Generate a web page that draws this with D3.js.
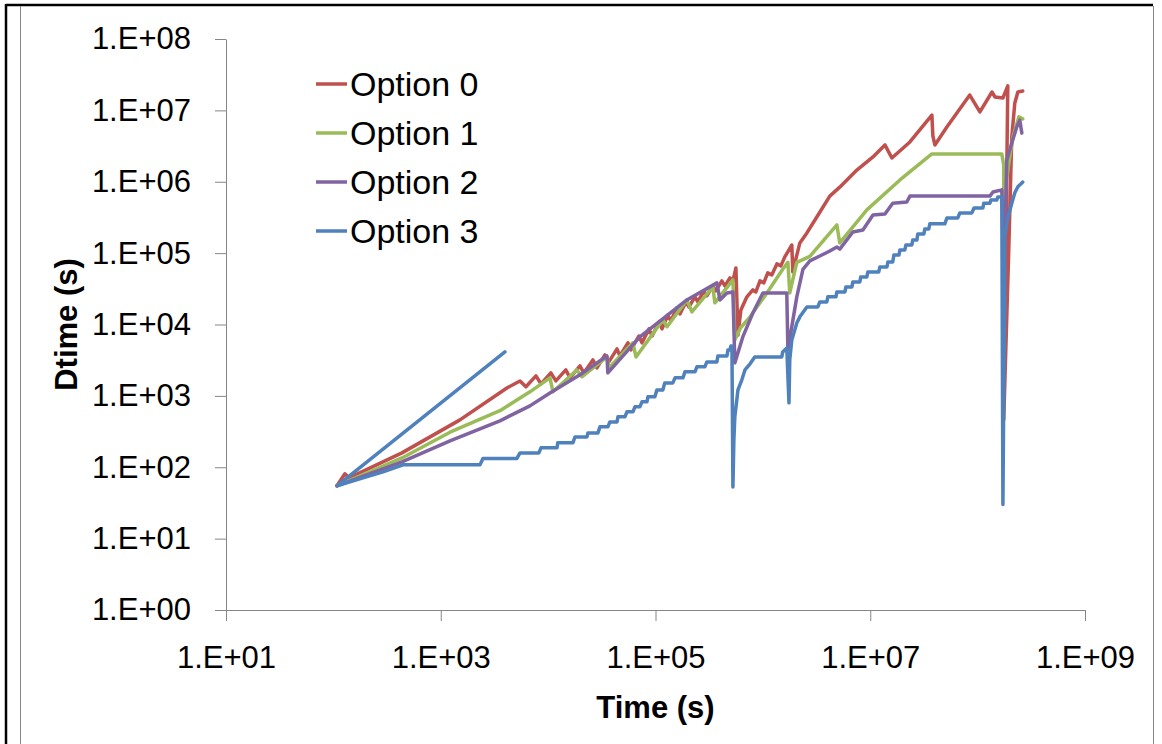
<!DOCTYPE html>
<html>
<head>
<meta charset="utf-8">
<script src="https://cdn.jsdelivr.net/npm/d3@7"></script>
<style>
  body { margin: 0; background: #fff; }
  svg  { display: block; }
  text { font-family: "Liberation Sans", Arial, sans-serif; fill: #000; }
</style>
</head>
<body>
<svg id="chart" width="1162" height="744"></svg>
<script>
// ── Data ──────────────────────────────────────────────────────────────────────
const seriesNames  = ['Option 0', 'Option 1', 'Option 2', 'Option 3'];
const seriesColors = ['#C0504D', '#9BBB59', '#8064A2', '#4F81BD'];
const xTickValues  = [1e1, 1e3, 1e5, 1e7, 1e9];
const yTickValues  = [1e0, 1e1, 1e2, 1e3, 1e4, 1e5, 1e6, 1e7, 1e8];
const xTitle       = 'Time (s)';
const yTitle       = 'Dtime (s)';

// [time, dtime] pairs, in plot order
const option0 = [
  [108, 55], [128, 81], [140, 71], [435, 159], [1.51e3, 461], [4.13e3, 1.29e3],
  [5.47e3, 1.62e3], [6.21e3, 1.34e3], [7.7e3, 1.91e3], [8.58e3, 1.47e3],
  [1.06e4, 2.10e3], [1.18e4, 1.62e3], [1.46e4, 2.31e3], [1.60e4, 1.79e3],
  [1.98e4, 2.63e3], [2.15e4, 2.10e3], [2.61e4, 3.19e3], [2.85e4, 2.47e3],
  [3.38e4, 3.75e3], [3.68e4, 2.99e3], [4.38e4, 4.55e3], [4.66e4, 3.63e3],
  [5.53e4, 5.54e3], [5.91e4, 4.41e3], [6.99e4, 6.9e3], [7.48e4, 5.54e3],
  [8.69e4, 8.67e3], [9.3e4, 6.9e3], [1.08e5, 1.09e4], [1.15e5, 8.67e3],
  [1.30e5, 1.36e4], [1.39e5, 1.12e4], [1.58e5, 1.71e4], [1.69e5, 1.41e4],
  [1.92e5, 2.07e4], [2.05e5, 1.76e4], [2.33e5, 2.44e4], [2.48e5, 2.07e4],
  [2.82e5, 2.96e4], [3.01e5, 2.52e4], [3.42e5, 3.47e4], [3.65e5, 2.96e4],
  [4.15e5, 4.08e4], [4.43e5, 3.47e4], [4.93e5, 4.49e4], [5.26e5, 4.08e4],
  [5.61e5, 6.2e4], [5.86e5, 7.1e3], [6.24e5, 1.60e4], [7.1e5, 2.44e4],
  [8.07e5, 3.05e4], [8.6e5, 2.86e4], [9.4e5, 4.08e4], [1.02e6, 3.83e4],
  [1.11e6, 5.28e4], [1.21e6, 4.95e4], [1.35e6, 7.06e4], [1.47e6, 6.62e4],
  [1.60e6, 8.85e4], [1.75e6, 1.11e5], [1.86e6, 1.30e5], [1.90e6, 5.45e4],
  [2.07e6, 9.4e4], [2.21e6, 1.39e5], [2.57e6, 1.92e5], [3.18e6, 3.21e5],
  [4.2e6, 6.3e5], [5.2e6, 8.4e5], [7.5e6, 1.46e6], [1.06e7, 2.23e6],
  [1.37e7, 3.28e6], [1.59e7, 2.15e6], [2.34e7, 3.61e6], [3.75e7, 8.6e6],
  [3.83e7, 4.38e6], [4.0e7, 3.28e6], [5.17e7, 5.85e6], [8.45e7, 1.64e7],
  [1.05e8, 9.5e6], [1.36e8, 1.81e7], [1.45e8, 1.54e7], [1.72e8, 1.49e7],
  [1.91e8, 2.20e7], [1.75e8, 461], [1.95e8, 1.11e5], [2.08e8, 4.24e6],
  [2.22e8, 1.27e7], [2.37e8, 1.81e7], [2.63e8, 1.87e7],
];

const option1 = [
  [108, 55], [435, 135], [1.22e3, 310], [3.56e3, 620], [6.77e3, 1.14e3],
  [1.04e4, 1.79e3], [1.11e4, 1.14e3], [1.85e4, 2.31e3], [2.06e4, 1.85e3],
  [3.53e4, 3.51e3], [3.68e4, 2.47e3], [6.16e4, 5.54e3], [6.58e4, 3.51e3],
  [1.17e5, 1.16e4], [1.28e5, 9.3e3], [1.96e5, 2.21e4], [2.18e5, 1.50e4],
  [3.42e5, 3.36e4], [3.57e5, 2.01e4], [5.26e5, 4.21e4], [5.48e5, 6.08e3],
  [6.2e5, 9.0e3], [7.6e5, 1.28e4], [1.09e6, 2.77e4], [1.53e6, 5.94e4],
  [1.71e6, 7.43e4], [1.78e6, 2.77e4], [2.07e6, 7.43e4], [2.74e6, 9.0e4],
  [4.89e6, 2.48e5], [5.2e6, 1.39e5], [9.3e6, 4.03e5], [1.89e7, 1.06e6],
  [3.75e7, 2.45e6], [1.68e8, 2.45e6], [1.75e8, 1.72e6], [1.75e8, 5.6e5],
  [1.91e8, 1.46e6], [2.13e8, 4.24e6], [2.42e8, 8.1e6], [2.63e8, 7.6e6],
];

const option2 = [
  [108, 55], [435, 119], [1.22e3, 234], [3.56e3, 447], [6.77e3, 724],
  [1.04e4, 1.10e3], [1.98e4, 1.97e3], [3.53e4, 3.63e3], [3.6e4, 2.10e3],
  [7.15e4, 6.7e3], [1.96e5, 2.21e4], [3.73e5, 3.83e4], [3.98e5, 2.21e4],
  [4.63e5, 2.77e4], [5.26e5, 2.86e4], [5.48e5, 2.9e3], [6.5e5, 6.7e3],
  [8.07e5, 1.45e4], [1.0e6, 2.77e4], [1.67e6, 2.77e4], [1.71e6, 4.41e3],
  [2.07e6, 2.44e4], [2.36e6, 5.94e4], [2.74e6, 7.8e4], [3.39e6, 9.1e4],
  [4.2e6, 1.07e5], [4.89e6, 1.22e5], [5.2e6, 1.14e5], [6.89e6, 1.98e5],
  [8.54e6, 2.11e5], [1.06e7, 3.43e5], [1.37e7, 3.54e5], [1.62e7, 5.0e5],
  [2.19e7, 5.2e5], [2.34e7, 6.3e5], [1.30e8, 6.3e5], [1.39e8, 7.2e5],
  [1.68e8, 7.7e5], [1.75e8, 4.2e4], [1.87e8, 2.02e6], [2.08e8, 3.5e6],
  [2.32e8, 5.9e6], [2.47e8, 7.3e6], [2.58e8, 4.8e6],
];

const option3 = [
  [3.96e3, 4.13e3], [108, 55], [189, 71], [290, 86], [445, 108],
  [2.32e3, 108], [2.47e3, 133], [5.12e3, 133], [5.47e3, 159], [8.2e3, 159],
  [8.58e3, 187], [1.21e4, 187], [1.23e4, 220], [1.70e4, 220], [1.78e4, 266],
  [2.30e4, 266], [2.35e4, 303], [2.91e4, 303], [3.04e4, 368], [3.6e4, 368],
  [3.76e4, 432], [4.38e4, 432], [4.47e4, 508], [5.19e4, 508], [5.42e4, 597],
  [6.16e4, 597], [6.43e4, 702], [7.15e4, 702], [7.48e4, 825], [8.32e4, 825],
  [8.5e4, 970], [9.87e4, 970], [1.03e5, 1.21e3], [1.17e5, 1.21e3],
  [1.22e5, 1.52e3], [1.45e5, 1.52e3], [1.52e5, 1.79e3], [1.80e5, 1.79e3],
  [1.88e5, 2.17e3], [2.33e5, 2.17e3], [2.43e5, 2.55e3], [2.88e5, 2.55e3],
  [3.01e5, 2.99e3], [3.73e5, 2.99e3], [3.81e5, 3.63e3], [4.63e5, 3.63e3],
  [4.73e5, 4.41e3], [4.93e5, 4.41e3], [5.04e5, 5.0e3], [5.15e5, 5.0e3],
  [5.26e5, 53], [5.37e5, 242], [5.48e5, 508], [5.86e5, 1.21e3],
  [6.37e5, 1.68e3], [6.81e5, 2.31e3], [7.6e5, 2.81e3], [8.4e5, 3.51e3],
  [1.50e6, 3.51e3], [1.53e6, 4.13e3], [1.67e6, 4.7e3], [1.75e6, 798],
  [1.78e6, 3.19e3], [1.86e6, 6.08e3], [2.07e6, 1.05e4], [2.21e6, 1.28e4],
  [2.57e6, 1.76e4], [3.25e6, 1.76e4], [3.39e6, 2.07e4], [3.94e6, 2.07e4],
  [4.03e6, 2.44e4], [4.79e6, 2.44e4], [4.89e6, 2.86e4], [5.81e6, 2.86e4],
  [5.93e6, 3.36e4], [6.75e6, 3.36e4], [6.89e6, 3.95e4], [8.0e6, 3.95e4],
  [8.16e6, 4.64e4], [9.3e6, 4.64e4], [9.5e6, 5.46e4], [1.20e7, 5.46e4],
  [1.23e7, 6.4e4], [1.43e7, 6.4e4], [1.46e7, 7.5e4], [1.62e7, 7.5e4],
  [1.66e7, 9.4e4], [1.85e7, 9.4e4], [1.89e7, 1.11e5], [2.10e7, 1.11e5],
  [2.15e7, 1.30e5], [2.44e7, 1.30e5], [2.49e7, 1.53e5], [2.72e7, 1.53e5],
  [2.77e7, 1.86e5], [3.16e7, 1.86e5], [3.22e7, 2.18e5], [3.51e7, 2.18e5],
  [3.59e7, 2.57e5], [4.95e7, 2.57e5], [5.17e7, 3.11e5], [6.54e7, 3.11e5],
  [6.83e7, 3.66e5], [8.84e7, 3.66e5], [9.26e7, 4.29e5], [1.12e8, 4.29e5],
  [1.14e8, 5.0e5], [1.30e8, 5.0e5], [1.33e8, 5.56e5], [1.51e8, 5.56e5],
  [1.54e8, 6.13e5], [1.68e8, 6.13e5], [1.72e8, 30], [1.75e8, 880],
  [1.79e8, 2.2e4], [1.79e8, 1.69e5], [1.91e8, 3.1e5], [2.08e8, 5.0e5],
  [2.22e8, 7.0e5], [2.37e8, 8.5e5], [2.58e8, 9.6e5], [2.63e8, 9.9e5],
];

const seriesData = [option0, option1, option2, option3];

// ── Layout ────────────────────────────────────────────────────────────────────
const PLOT_LEFT   = 226;
const PLOT_RIGHT  = 1085;
const PLOT_TOP    = 39;
const PLOT_BOTTOM = 610;
const AXIS_GREY   = '#868686';
const TICK_FONT   = 31;
const LINE_WIDTH  = 3.5;

const svg = d3.select('#chart');

const x = d3.scaleLog().domain([1e1, 1e9]).range([PLOT_LEFT, PLOT_RIGHT]);
const y = d3.scaleLog().domain([1e0, 1e8]).range([PLOT_BOTTOM, PLOT_TOP]);

const expFormat = d => '1.E+' + String(Math.round(Math.log10(d))).padStart(2, '0');

// ── Outer frame ───────────────────────────────────────────────────────────────
svg.append('line').attr('x1', 6).attr('x2', 1153).attr('y1', 5).attr('y2', 5)
  .attr('stroke', '#000').attr('stroke-width', 2.5);
svg.append('line').attr('x1', 6).attr('x2', 6).attr('y1', 4).attr('y2', 744)
  .attr('stroke', '#000').attr('stroke-width', 2.5);
svg.append('line').attr('x1', 20.5).attr('x2', 20.5).attr('y1', 6).attr('y2', 744)
  .attr('stroke', AXIS_GREY).attr('stroke-width', 1);
svg.append('line').attr('x1', 1153.5).attr('x2', 1153.5).attr('y1', 6).attr('y2', 744)
  .attr('stroke', AXIS_GREY).attr('stroke-width', 1);

// ── Axes ──────────────────────────────────────────────────────────────────────
const yAxis = d3.axisLeft(y)
  .tickValues(yTickValues).tickFormat(expFormat)
  .tickSize(11).tickSizeOuter(0).tickPadding(24);
const xAxis = d3.axisBottom(x)
  .tickValues(xTickValues).tickFormat(expFormat)
  .tickSize(11).tickSizeOuter(0).tickPadding(25);

function styleAxis(g) {
  g.select('.domain').attr('stroke', AXIS_GREY);
  g.selectAll('.tick line').attr('stroke', AXIS_GREY);
  g.selectAll('.tick text')
    .attr('font-family', '"Liberation Sans", Arial, sans-serif')
    .attr('font-size', TICK_FONT).attr('fill', '#000');
}

svg.append('g').attr('transform', `translate(${PLOT_LEFT},0)`).call(yAxis).call(styleAxis);
svg.append('g').attr('transform', `translate(0,${PLOT_BOTTOM})`).call(xAxis).call(styleAxis);

// ── Axis titles ───────────────────────────────────────────────────────────────
svg.append('text')
  .attr('x', (PLOT_LEFT + PLOT_RIGHT) / 2).attr('y', 718)
  .attr('text-anchor', 'middle').attr('font-weight', 'bold').attr('font-size', 31)
  .text(xTitle);

svg.append('text')
  .attr('transform', `translate(77,${(PLOT_TOP + PLOT_BOTTOM) / 2}) rotate(-90)`)
  .attr('text-anchor', 'middle').attr('font-weight', 'bold').attr('font-size', 31)
  .text(yTitle);

// ── Series lines ──────────────────────────────────────────────────────────────
const line = d3.line().x(d => x(d[0])).y(d => y(d[1]));

svg.append('g').selectAll('path.series')
  .data(seriesData)
  .join('path')
  .attr('class', 'series')
  .attr('d', line)
  .attr('fill', 'none')
  .attr('stroke', (d, i) => seriesColors[i])
  .attr('stroke-width', LINE_WIDTH)
  .attr('stroke-linejoin', 'round')
  .attr('stroke-linecap', 'round');

// ── Legend ────────────────────────────────────────────────────────────────────
const legend = svg.append('g').attr('transform', 'translate(316,84)');
const legendItems = legend.selectAll('g.item')
  .data(seriesNames)
  .join('g')
  .attr('class', 'item')
  .attr('transform', (d, i) => `translate(0,${i * 49})`);

legendItems.append('line')
  .attr('x1', 0).attr('x2', 31)
  .attr('stroke', (d, i) => seriesColors[i])
  .attr('stroke-width', LINE_WIDTH);

legendItems.append('text')
  .attr('x', 34).attr('dy', '0.36em')
  .attr('font-size', 34)
  .text(d => d);
</script>
</body>
</html>
